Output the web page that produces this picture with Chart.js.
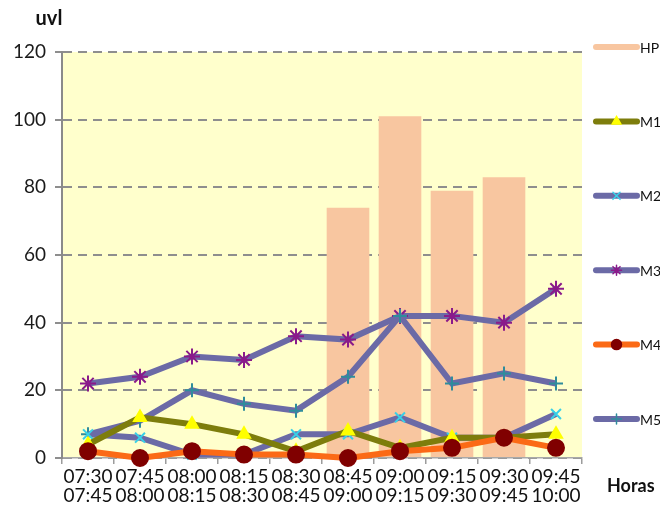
<!DOCTYPE html>
<html>
<head>
<meta charset="utf-8">
<script src="https://cdn.jsdelivr.net/npm/chart.js@4/dist/chart.umd.min.js"></script>
<style>
  html, body { margin: 0; padding: 0; background: #ffffff; }
  #wrap { width: 660px; height: 509px; }
</style>
</head>
<body>
<div id="wrap"><canvas id="chart" width="660" height="509"></canvas></div>
<script>
// Quarter-hour intervals (start / end)
const horas = [
  ['07:30', '07:45'], ['07:45', '08:00'], ['08:00', '08:15'], ['08:15', '08:30'], ['08:30', '08:45'],
  ['08:45', '09:00'], ['09:00', '09:15'], ['09:15', '09:30'], ['09:30', '09:45'], ['09:45', '10:00']
];

// Hora punta (bars) and the five movements (lines)
const hp = [null, null, null, null, null, 74, 101, 79, 83, null];
const m1 = [4, 12, 10, 7, 2, 8, 3, 6, 6, 7];
const m2 = [7, 6, 1, 1, 7, 7, 12, 6, 6, 13];
const m3 = [22, 24, 30, 29, 36, 35, 42, 42, 40, 50];
const m4 = [2, 0, 2, 1, 1, 0, 2, 3, 6, 3];
const m5 = [7, 11, 20, 16, 14, 24, 42, 22, 25, 22];

// Value axis
const yMin = 0;
const yMax = 120;
const yStep = 20;

const FONT = 'Lato, "Open Sans", sans-serif';
const SLATE = '#6b6aa6';

function lineSet(label, data, color, style, markColor, radius, order) {
  return {
    type: 'line', label, data, order,
    borderColor: color, borderWidth: 6, tension: 0,
    pointStyle: style, pointRadius: radius, pointHoverRadius: radius,
    pointBackgroundColor: markColor, pointBorderColor: markColor, pointBorderWidth: 2,
    clip: false
  };
}

// Pale plot-area fill
const plotFill = {
  id: 'plotFill',
  beforeDraw(chart) {
    const { ctx, chartArea: a } = chart;
    ctx.save();
    ctx.fillStyle = '#ffffff';
    ctx.fillRect(0, 0, chart.width, chart.height);
    ctx.fillStyle = '#ffffcc';
    ctx.fillRect(a.left, a.top, a.right - a.left, a.bottom - a.top);
    ctx.restore();
  }
};

// Axis captions and the stacked series key on the right
const annotations = {
  id: 'annotations',
  afterDraw(chart) {
    const ctx = chart.ctx;
    ctx.save();
    ctx.fillStyle = '#111111';
    ctx.textAlign = 'center';
    ctx.textBaseline = 'alphabetic';
    ctx.font = 'bold 20px ' + FONT;
    ctx.fillText('uvl', 49, 25);
    ctx.textAlign = 'left';
    ctx.font = 'bold 18px ' + FONT;
    ctx.fillText('Horas', 607, 492);

    const sets = chart.data.datasets;
    const x0 = 596, x1 = 637;
    sets.forEach((ds, i) => {
      const y = 47 + i * 74.4;
      ctx.save();
      ctx.lineCap = 'round';
      ctx.strokeStyle = ds.type === 'bar' ? ds.backgroundColor : ds.borderColor;
      ctx.lineWidth = 6;
      ctx.beginPath();
      ctx.moveTo(x0, y);
      ctx.lineTo(x1, y);
      ctx.stroke();
      if (ds.type !== 'bar') {
        ctx.fillStyle = ds.pointBackgroundColor;
        ctx.strokeStyle = ds.pointBorderColor;
        ctx.lineWidth = 1.5;
        Chart.helpers.drawPoint(ctx, { pointStyle: ds.pointStyle, radius: 5, rotation: 0, borderWidth: 1.5 }, (x0 + x1) / 2, y);
      }
      ctx.restore();
      ctx.fillStyle = '#111111';
      ctx.font = '14px ' + FONT;
      ctx.textAlign = 'left';
      ctx.textBaseline = 'middle';
      ctx.fillText(ds.label, x1 + 3, y + 1);
    });
    ctx.restore();
  }
};

new Chart(document.getElementById('chart'), {
  type: 'bar',
  data: {
    labels: horas,
    datasets: [
      { type: 'bar', label: 'HP', data: hp, backgroundColor: '#f8c6a0', borderWidth: 0,
        categoryPercentage: 1, barPercentage: 0.82, order: 10 },
      lineSet('M1', m1, '#7d7d0c', 'triangle', '#ffff00', 7, 3),
      lineSet('M2', m2, SLATE, 'crossRot', '#38d0e8', 7, 4),
      lineSet('M3', m3, SLATE, 'star', '#8a1a8a', 8, 6),
      lineSet('M4', m4, '#fb6a16', 'circle', '#800000', 8, 1),
      lineSet('M5', m5, SLATE, 'cross', '#2f8c9c', 7, 5)
    ]
  },
  options: {
    responsive: false,
    animation: false,
    devicePixelRatio: 1,
    layout: { padding: { top: 52, right: 78, left: 0, bottom: 0 } },
    plugins: { legend: { display: false }, tooltip: { enabled: false } },
    scales: {
      x: {
        type: 'category',
        offset: true,
        afterFit(s) { s.height = 51; },
        grid: { offset: true, drawOnChartArea: false, color: '#9c9c9c', lineWidth: 1.5, tickLength: 6 },
        border: { display: true, color: '#a8a8a8', width: 1.5 },
        ticks: { color: '#111111', font: { family: FONT, size: 19, lineHeight: 0.98 }, padding: 4,
                 maxRotation: 0, minRotation: 0, autoSkip: false }
      },
      y: {
        min: yMin, max: yMax,
        afterFit(s) { s.width = 62; },
        grid: { color: '#8e8e8e', lineWidth: 2, tickLength: 7, drawTicks: true },
        border: { display: true, color: '#8a8a8a', width: 2, dash: [9, 6] },
        ticks: { stepSize: yStep, color: '#1a1a1a', font: { family: FONT, size: 19 }, padding: 9 }
      }
    }
  },
  plugins: [plotFill, annotations]
});
</script>
</body>
</html>
